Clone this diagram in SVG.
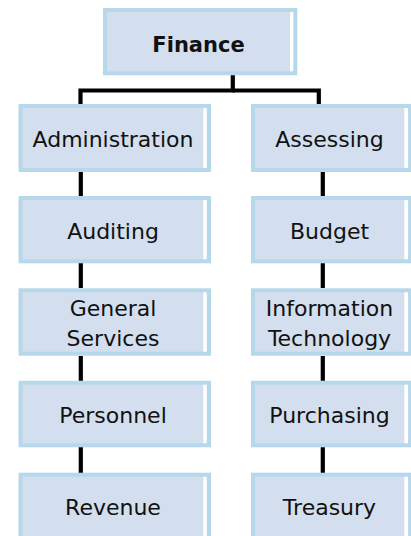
<svg xmlns="http://www.w3.org/2000/svg" width="411" height="536" viewBox="0 0 411 536">
<style>
.box{fill:#D3DFEE;stroke:#B6D8EA;stroke-width:4}
.strip{fill:#FFFFFF}
.t{font-family:"DejaVu Sans",sans-serif;font-size:22px;fill:#111111;text-anchor:middle}
.tb{font-family:"DejaVu Sans",sans-serif;font-size:21px;font-weight:bold;fill:#111111;text-anchor:middle}
.c{fill:none;stroke:#000000;stroke-width:4.2}
</style>
<rect width="411" height="536" fill="#FFFFFF"/>
<g id="connectors">
<polyline class="c" points="232.8,75 232.8,90.5 80.5,90.5 80.5,104"/>
<polyline class="c" points="232.8,90.5 318.8,90.5 318.8,104"/>
<line class="c" x1="80.8" y1="172" x2="80.8" y2="196"/>
<line class="c" x1="80.8" y1="263" x2="80.8" y2="288"/>
<line class="c" x1="80.8" y1="356" x2="80.8" y2="381"/>
<line class="c" x1="80.8" y1="447" x2="80.8" y2="473"/>
<line class="c" x1="322.8" y1="172" x2="322.8" y2="196"/>
<line class="c" x1="322.8" y1="263" x2="322.8" y2="288"/>
<line class="c" x1="322.8" y1="356" x2="322.8" y2="381"/>
<line class="c" x1="322.8" y1="447" x2="322.8" y2="473"/>
</g>
<g id="finance">
<rect class="box" x="105" y="10" width="190.3" height="63.3"/>
<rect class="strip" x="290" y="12" width="3.3" height="59.3"/>
<text class="tb" x="198.5" y="52">Finance</text>
</g>
<g id="administration">
<rect class="box" x="20.5" y="106" width="188.5" height="64"/>
<rect class="strip" x="203.3" y="108" width="3.4" height="60"/>
<text class="t" x="113" y="147">Administration</text>
</g>
<g id="assessing">
<rect class="box" x="253" y="106" width="157" height="64"/>
<rect class="strip" x="404.3" y="108" width="3.8" height="60"/>
<text class="t" x="329.5" y="147">Assessing</text>
</g>
<g id="auditing">
<rect class="box" x="20.5" y="198" width="188.5" height="63.3"/>
<rect class="strip" x="203.3" y="200" width="3.4" height="59.3"/>
<text class="t" x="113" y="239.3">Auditing</text>
</g>
<g id="budget">
<rect class="box" x="253" y="198" width="157" height="63.3"/>
<rect class="strip" x="404.3" y="200" width="3.8" height="59.3"/>
<text class="t" x="329.5" y="239.3">Budget</text>
</g>
<g id="general-services">
<rect class="box" x="20.5" y="290.3" width="188.5" height="63.4"/>
<rect class="strip" x="203.3" y="292.3" width="3.4" height="59.4"/>
<text class="t" x="113" y="316">General</text>
<text class="t" x="113" y="345.7">Services</text>
</g>
<g id="information-technology">
<rect class="box" x="253" y="290.3" width="157" height="63.4"/>
<rect class="strip" x="404.3" y="292.3" width="3.8" height="59.4"/>
<text class="t" x="329.5" y="316">Information</text>
<text class="t" x="329.5" y="345.7">Technology</text>
</g>
<g id="personnel">
<rect class="box" x="20.5" y="382.7" width="188.5" height="62.6"/>
<rect class="strip" x="203.3" y="384.7" width="3.4" height="58.6"/>
<text class="t" x="113" y="422.7">Personnel</text>
</g>
<g id="purchasing">
<rect class="box" x="253" y="382.7" width="157" height="62.6"/>
<rect class="strip" x="404.3" y="384.7" width="3.8" height="58.6"/>
<text class="t" x="329.5" y="422.7">Purchasing</text>
</g>
<g id="revenue">
<rect class="box" x="20.5" y="474.7" width="188.5" height="64"/>
<rect class="strip" x="203.3" y="476.7" width="3.4" height="60"/>
<text class="t" x="113" y="515">Revenue</text>
</g>
<g id="treasury">
<rect class="box" x="253" y="474.7" width="157" height="64"/>
<rect class="strip" x="404.3" y="476.7" width="3.8" height="60"/>
<text class="t" x="329.5" y="515">Treasury</text>
</g>
</svg>
